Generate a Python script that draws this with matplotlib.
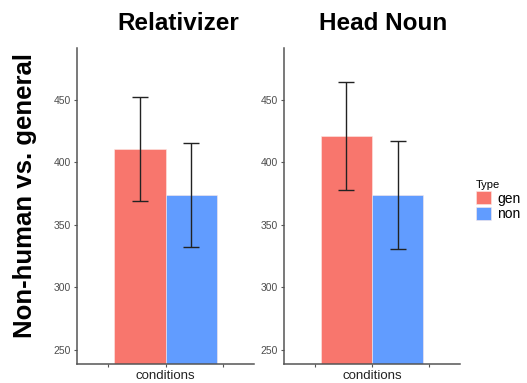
import matplotlib
matplotlib.use("Agg")
import matplotlib.pyplot as plt
from matplotlib.patches import Patch

plt.rcParams["font.family"] = ["Liberation Sans", "DejaVu Sans"]

# data
panels = ["Relativizer", "Head Noun"]
types = ["gen", "non"]
means = {"Relativizer": [410.3, 373.3], "Head Noun": [420.9, 373.6]}
errs = {"Relativizer": [41.5, 41.6], "Head Noun": [43.5, 43.0]}
colors = ["#F8766D", "#619CFF"]
ylab = "Non-human vs. general"
xlab = "conditions"
yticks = [250, 300, 350, 400, 450]

W, H = 527, 383
fig = plt.figure(figsize=(W / 100, H / 100), dpi=100)

ax_px = [(77, 254), (284, 460)]
title_x = [178, 383]
top_px, bot_px = 47.7, 364
bw = 0.45

for i, name in enumerate(panels):
    x0, x1 = ax_px[i]
    ax = fig.add_axes([x0 / W, (H - bot_px) / H, (x1 - x0) / W, (bot_px - top_px) / H])
    xs = [1 - bw / 2, 1 + bw / 2]
    ax.bar(xs, means[name], width=bw, color=colors, edgecolor="#fbe9e7",
           linewidth=0.4, zorder=2)
    ax.errorbar(xs, means[name], yerr=errs[name], fmt="none", ecolor="#222222",
                elinewidth=1.0, capsize=5.5, capthick=1.0, zorder=3)
    ax.set_xlim(0.226, 1.774)
    ax.set_ylim(238.5, 491.5)
    ax.set_yticks(yticks)
    ax.set_xticks([0.5, 1, 1.5])
    ax.set_xticklabels(["", xlab, ""], fontsize=9.5, color="#222222")
    ax.tick_params(axis="y", labelsize=7.5, labelcolor="#4d4d4d", length=2.5,
                   width=0.8, color="#555555", pad=2)
    ax.tick_params(axis="x", length=2.5, width=0.8, color="#555555", pad=2)
    for s in ["top", "right"]:
        ax.spines[s].set_visible(False)
    for s in ["left", "bottom"]:
        ax.spines[s].set_color("#555555")
        ax.spines[s].set_linewidth(1.1)
    fig.text(title_x[i] / W, 1 - 23.5 / H, name, ha="center", va="center",
             fontsize=17.5, fontweight="bold")

fig.text(25 / W, 1 - 195 / H, ylab, rotation=90, ha="center", va="center",
         fontsize=18.5, fontweight="bold")

handles = [Patch(facecolor=c, edgecolor="#fbe9e7", linewidth=0.4) for c in colors]
leg = fig.legend(handles, types, title="Type", loc="upper left",
                 bbox_to_anchor=(476 / W, 1 - 180 / H), frameon=False,
                 fontsize=10, title_fontsize=8, handlelength=1.1,
                 handleheight=1.1, handletextpad=0.45, labelspacing=0.08,
                 borderpad=0, borderaxespad=0)
leg._legend_box.align = "left"

fig.savefig("out.png", dpi=100)
